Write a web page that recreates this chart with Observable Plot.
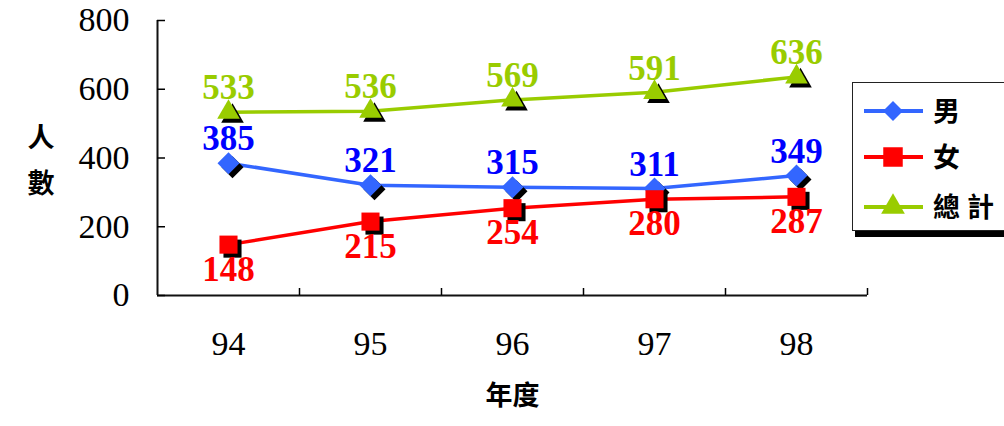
<!DOCTYPE html>
<html><head><meta charset="utf-8">
<script src="https://cdn.jsdelivr.net/npm/d3@7"></script>
<script src="https://cdn.jsdelivr.net/npm/@observablehq/plot@0.6"></script>
<style>
body{margin:0;background:#fff;}
#wrap{position:relative;width:1004px;height:426px;overflow:hidden;background:#fff;}
#legend{position:absolute;left:852px;top:82px;width:170px;height:147px;border:1.5px solid #222;background:#fff;box-shadow:3px 6px 0 #000;}
#legend svg{display:block;}
</style></head><body><div id="wrap"></div>
<script>
// ---- data ----
const years = [94, 95, 96, 97, 98];
const male = [385, 321, 315, 311, 349];
const female = [148, 215, 254, 280, 287];
const total = [533, 536, 569, 591, 636];
const yTicks = [0, 200, 400, 600, 800];
const seriesNames = ["男", "女", "總計"];
const xTitle = "年度";
const yTitle = "人\n數";

// ---- styles ----
const seriesValues = [male, female, total];
const lineColors = ["#3366FF", "#FF0000", "#99CC00"];
const labelColors = ["#0000FF", "#FF0000", "#99CC00"];
const symbols = ["diamond2", "square", "triangle"];
const radii = [9.9, 10.2, 8.4];
const labelDy = [-24, 25, -24];
const d3Symbols = [d3.symbolDiamond2, d3.symbolSquare, d3.symbolTriangle];

const series = seriesNames.map((name, s) => ({
  name,
  rows: years.map((year, i) => ({year, value: seriesValues[s][i], series: name}))
}));

const boundaries = years.map(y => y + 0.5);

const marks = [
  Plot.ruleY([0], {stroke: "#111", strokeWidth: 2}),
  Plot.ruleX([years[0] - 0.5], {stroke: "#111", strokeWidth: 2}),
  Plot.axisY({ticks: yTicks, tickSize: 0, tickPadding: 28, fontSize: 34, fontFamily: "Liberation Serif", label: null}),
  Plot.axisY({ticks: yTicks, tickSize: -8, tickFormat: () => "", label: null, strokeWidth: 1.5}),
  Plot.axisX({ticks: years, tickSize: 0, tickPadding: 35, fontSize: 34, fontFamily: "Liberation Serif", label: null, tickFormat: d => String(d)}),
  Plot.axisX({ticks: boundaries, tickSize: -7, tickFormat: () => "", label: null, strokeWidth: 1.5}),
  Plot.text([xTitle], {frameAnchor: "bottom", dy: 109, fontSize: 27, fontFamily: "Noto Sans CJK TC", fontWeight: "bold", fill: "#000"}),
  Plot.text([yTitle], {frameAnchor: "left", dx: -130, dy: -3, fontSize: 27, lineHeight: 1.7, fontFamily: "Noto Sans CJK TC", fontWeight: "bold", fill: "#000"})
];

series.forEach((s, k) => {
  marks.push(Plot.line(s.rows, {x: "year", y: "value", stroke: lineColors[k], strokeWidth: 3.5}));
});
series.forEach((s, k) => {
  marks.push(Plot.dot(s.rows, {x: "year", y: "value", symbol: symbols[k], r: radii[k], fill: "#000", stroke: "none", dx: 4, dy: 4}));
  marks.push(Plot.dot(s.rows, {x: "year", y: "value", symbol: symbols[k], r: radii[k], fill: lineColors[k], stroke: "none"}));
});
series.forEach((s, k) => {
  marks.push(Plot.text(s.rows, {x: "year", y: "value", text: d => String(d.value), dy: labelDy[k], fill: labelColors[k], fontSize: 35, fontWeight: "bold", fontFamily: "Liberation Serif"}));
});

const chart = Plot.plot({
  width: 1004,
  height: 426,
  marginLeft: 157,
  marginRight: 137,
  marginTop: 20,
  marginBottom: 131,
  style: {background: "#fff", color: "#000", overflow: "visible"},
  x: {domain: [years[0] - 0.5, years[years.length - 1] + 0.5], axis: null},
  y: {domain: [yTicks[0], yTicks[yTicks.length - 1]], axis: null},
  marks
});

const wrap = document.getElementById("wrap");
wrap.appendChild(chart);

// ---- legend ----
const legend = document.createElement("div");
legend.id = "legend";
wrap.appendChild(legend);
const lsvg = d3.select(legend).append("svg").attr("width", 170).attr("height", 147);
const rowY = [28, 74, 124];
const symSizes = [Math.PI * 9 * 9, Math.PI * 11 * 11, Math.PI * 8.8 * 8.8];
seriesNames.forEach((name, k) => {
  const g = lsvg.append("g").attr("transform", `translate(0,${rowY[k]})`);
  g.append("line").attr("x1", 11).attr("x2", 70).attr("y1", 0).attr("y2", 0)
    .attr("stroke", lineColors[k]).attr("stroke-width", 4);
  g.append("path").attr("transform", "translate(40,0)")
    .attr("d", d3.symbol(d3Symbols[k], symSizes[k])()).attr("fill", lineColors[k]);
  g.append("text").attr("x", 80).attr("y", 0).attr("dy", "0.36em")
    .attr("font-family", "Noto Sans CJK TC").attr("font-weight", "bold")
    .attr("font-size", 27).attr("letter-spacing", name.length > 1 ? 7 : 0)
    .attr("fill", "#000").text(name);
});
</script>
</body></html>
